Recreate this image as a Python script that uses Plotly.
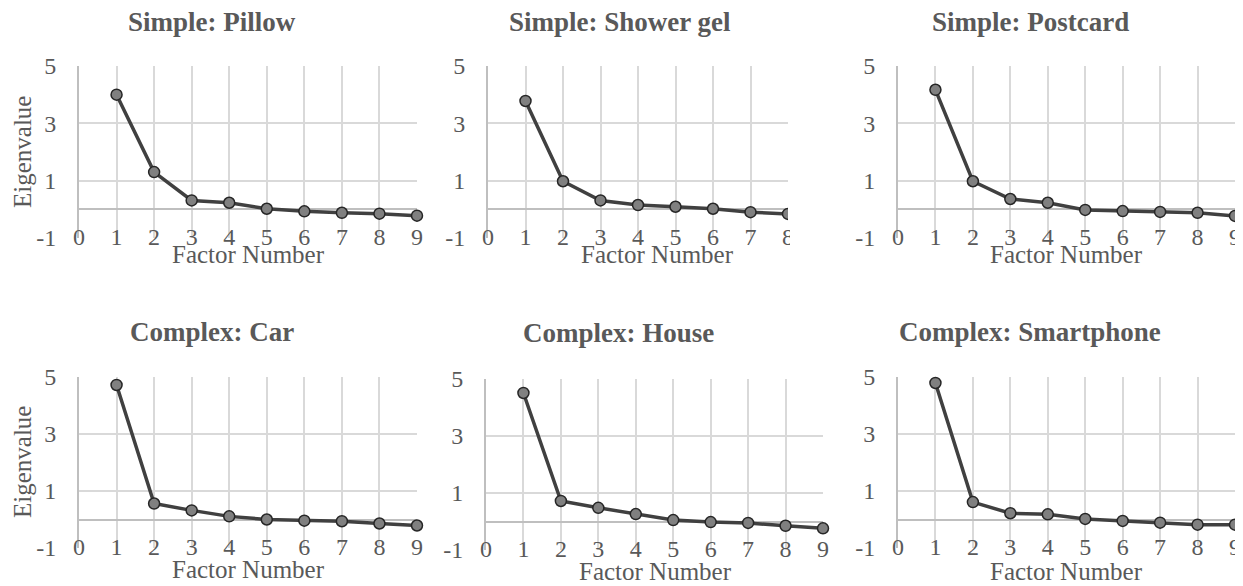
import plotly.graph_objects as go

# ---------------- data ----------------
factors_9 = [1, 2, 3, 4, 5, 6, 7, 8, 9]
factors_8 = [1, 2, 3, 4, 5, 6, 7, 8]

pillow = [4.00, 1.30, 0.31, 0.23, 0.02, -0.07, -0.12, -0.15, -0.22]
shower_gel = [3.78, 0.98, 0.31, 0.15, 0.09, 0.02, -0.10, -0.16]
postcard = [4.17, 0.98, 0.36, 0.23, -0.02, -0.06, -0.09, -0.12, -0.23]
car = [4.72, 0.56, 0.32, 0.11, 0.00, -0.04, -0.06, -0.14, -0.21]
house = [4.51, 0.72, 0.48, 0.26, 0.05, -0.02, -0.05, -0.15, -0.24]
smartphone = [4.79, 0.61, 0.22, 0.18, 0.02, -0.05, -0.11, -0.18, -0.18]

titles = ["Simple: Pillow", "Simple: Shower gel", "Simple: Postcard",
          "Complex: Car", "Complex: House", "Complex: Smartphone"]
y_ticks = [-1, 1, 3, 5]
y_tick_labels = ["-1", "1", "3", "5"]
x_title = "Factor Number"
y_title = "Eigenvalue"

series = [
    (factors_9, pillow, 9),
    (factors_8, shower_gel, 8),
    (factors_9, postcard, 9),
    (factors_9, car, 9),
    (factors_9, house, 9),
    (factors_9, smartphone, 9),
]

# ---------------- layout (pixel geometry, in window pixels) ----------------
WIN_W, WIN_H = 1243, 586
OFF = 8  # default page body margin
W, H = WIN_W - OFF, WIN_H - OFF
# plot-area boxes: left, right, top, bottom (window px)
boxes = [
    (79, 417, 66, 238),
    (488, 788, 66, 238),
    (898, 1235, 66, 238),
    (79, 417, 377, 548),
    (486, 823, 379, 550),
    (898, 1235, 377, 548),
]
title_pos = [(212, 22), (620, 22), (1030, 22), (212, 332), (618, 333), (1030, 332)]
xtitle_pos = [(248, 254), (657, 254), (1066, 254), (248, 569), (655, 571), (1066, 571)]
ytitle_pos = [(22, 152), (22, 462)]

TXT = "#595959"
GRID = "#d9d9d9"
AXIS = "#bfbfbf"
SERIF = "Liberation Serif, Times New Roman, serif"


def px(x):
    return (x - OFF) / W


def py(y):
    return 1 - (y - OFF) / H


fig = go.Figure()
layout = dict(
    width=W, height=H,
    margin=dict(l=0, r=0, t=0, b=0, autoexpand=False),
    paper_bgcolor="white", plot_bgcolor="white",
    showlegend=False,
    font=dict(family=SERIF, color=TXT, size=24),
    annotations=[], shapes=[],
)

for i, ((xs, ys, xmax), (l, r, t, b)) in enumerate(zip(series, boxes)):
    n = i + 1
    xa = "x" if n == 1 else f"x{n}"
    ya = "y" if n == 1 else f"y{n}"
    fig.add_trace(go.Scatter(
        x=xs, y=ys, xaxis=xa, yaxis=ya, mode="lines+markers",
        line=dict(color="#404040", width=3.5),
        marker=dict(size=11, color="#808080", line=dict(color="#262626", width=1.5)),
        cliponaxis=(xmax == 8),
        hoverinfo="x+y",
    ))
    xkey = "xaxis" if n == 1 else f"xaxis{n}"
    ykey = "yaxis" if n == 1 else f"yaxis{n}"
    layout[xkey] = dict(
        domain=[px(l), px(r)], anchor=ya, range=[0, xmax],
        tickmode="array", tickvals=list(range(0, xmax + 1)),
        showgrid=True, gridcolor=GRID, gridwidth=1.5,
        zeroline=False, showline=False, ticks="",
        tickfont=dict(family=SERIF, color=TXT, size=24),
        ticklabelstandoff=-18, automargin=False,
        ticklabeloverflow="allow",
        fixedrange=True,
    )
    layout[ykey] = dict(
        domain=[py(b), py(t)], anchor=xa, range=[-1, 5],
        tickmode="array", tickvals=y_ticks, ticktext=y_tick_labels,
        showgrid=True, gridcolor=GRID, gridwidth=1.5,
        zeroline=True, zerolinecolor=AXIS, zerolinewidth=2,
        showline=True, linecolor=AXIS, linewidth=2, ticks="",
        tickfont=dict(family=SERIF, color=TXT, size=24),
        ticklabelstandoff=16, automargin=False,
        ticklabeloverflow="allow",
        fixedrange=True,
    )
    tx, ty = title_pos[i]
    layout["annotations"].append(dict(
        text=f"<b>{titles[i]}</b>", x=px(tx), y=py(ty), xref="paper", yref="paper",
        xanchor="center", yanchor="middle", showarrow=False,
        font=dict(family=SERIF, size=27, color=TXT),
    ))
    ax_, ay_ = xtitle_pos[i]
    layout["annotations"].append(dict(
        text=x_title, x=px(ax_), y=py(ay_), xref="paper", yref="paper",
        xanchor="center", yanchor="middle", showarrow=False,
        font=dict(family=SERIF, size=25, color=TXT),
    ))

for (yx, yy) in ytitle_pos:
    layout["annotations"].append(dict(
        text=y_title, x=px(yx), y=py(yy), xref="paper", yref="paper",
        xanchor="center", yanchor="middle", showarrow=False, textangle=-90,
        font=dict(family=SERIF, size=25, color=TXT),
    ))

# cropped right edge of the shower-gel chart in the source image
layout["shapes"].append(dict(
    type="rect", xref="paper", yref="paper", layer="above",
    x0=px(790), x1=px(812), y0=py(252), y1=py(224),
    fillcolor="white", line=dict(width=0),
))

fig.update_layout(**layout)
fig.write_html("out.html")
